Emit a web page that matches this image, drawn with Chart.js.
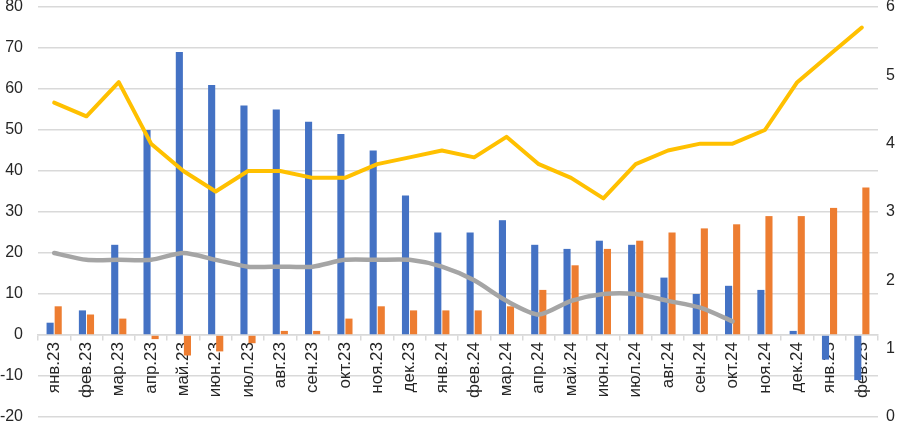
<!DOCTYPE html>
<html lang="ru">
<head>
    <meta charset="UTF-8">
    <title>Chart</title>
    <script src="https://cdn.jsdelivr.net/npm/chart.js@4.4.0/dist/chart.umd.min.js"></script>
    <style>
        html, body { margin: 0; padding: 0; background: #fff; }
        .chart-box { width: 902px; height: 422px; }
    </style>
</head>
<body>
    <div class="chart-box">
        <canvas id="mainChart"></canvas>
    </div>

    <script>
        // months
        const months = ['янв.23', 'фев.23', 'мар.23', 'апр.23', 'май.23', 'июн.23', 'июл.23', 'авг.23',
            'сен.23', 'окт.23', 'ноя.23', 'дек.23', 'янв.24', 'фев.24', 'мар.24', 'апр.24', 'май.24',
            'июн.24', 'июл.24', 'авг.24', 'сен.24', 'окт.24', 'ноя.24', 'дек.24', 'янв.25', 'фев.25'];

        // bars, left axis
        const blueBars = [3, 6, 22, 50, 69, 61, 56, 55, 52, 49, 45, 34, 25,
            25, 28, 22, 21, 23, 22, 14, 10, 12, 11, 1, -6, -11];
        const orangeBars = [7, 5, 4, -1, -5, -4, -2, 1, 1, 4, 7, 6, 6,
            6, 7, 11, 17, 21, 23, 25, 26, 27, 29, 29, 31, 36];

        // lines, right axis
        const yellowLine = [4.6, 4.4, 4.9, 4.0, 3.6, 3.3, 3.6, 3.6, 3.5, 3.5, 3.7, 3.8, 3.9,
            3.8, 4.1, 3.7, 3.5, 3.2, 3.7, 3.9, 4.0, 4.0, 4.2, 4.9, 5.3, 5.7];
        const grayLine = [2.4, 2.3, 2.3, 2.3, 2.4, 2.3, 2.2, 2.2, 2.2, 2.3, 2.3, 2.3, 2.2,
            2.0, 1.7, 1.5, 1.7, 1.8, 1.8, 1.7, 1.6, 1.4, null, null, null, null];

        const fontFamily = '"Liberation Sans", Arial, sans-serif';
        const textColor = '#262626';
        const gridColor = '#d9d9d9';

        const ctx = document.getElementById('mainChart').getContext('2d');
        const mainChart = new Chart(ctx, {
            type: 'bar',
            data: {
                labels: months,
                datasets: [
                    {
                        type: 'line',
                        data: yellowLine,
                        yAxisID: 'y2',
                        borderColor: '#ffc000',
                        borderWidth: 4,
                        pointRadius: 0,
                        tension: 0,
                        borderJoinStyle: 'round',
                        borderCapStyle: 'round',
                        order: 0
                    },
                    {
                        type: 'line',
                        data: grayLine,
                        yAxisID: 'y2',
                        borderColor: '#a5a5a5',
                        borderWidth: 4.5,
                        pointRadius: 0,
                        tension: 0.25,
                        borderJoinStyle: 'round',
                        borderCapStyle: 'round',
                        order: 0
                    },
                    {
                        data: blueBars,
                        yAxisID: 'y',
                        backgroundColor: '#4472c4',
                        categoryPercentage: 0.5,
                        barPercentage: 0.88,
                        order: 1
                    },
                    {
                        data: orangeBars,
                        yAxisID: 'y',
                        backgroundColor: '#ed7d31',
                        categoryPercentage: 0.5,
                        barPercentage: 0.88,
                        order: 1
                    }
                ]
            },
            options: {
                responsive: true,
                maintainAspectRatio: false,
                animation: false,
                layout: { padding: { top: 7, bottom: 5, left: 0, right: 0 } },
                plugins: {
                    legend: { display: false },
                    tooltip: { enabled: false }
                },
                scales: {
                    x: {
                        position: { y: 0 },
                        grid: {
                            offset: true,
                            drawOnChartArea: false,
                            drawTicks: true,
                            tickLength: 5,
                            color: gridColor,
                            lineWidth: 1.5
                        },
                        border: { color: gridColor, width: 1.5 },
                        ticks: {
                            autoSkip: false,
                            minRotation: 90,
                            maxRotation: 90,
                            padding: 2,
                            color: textColor,
                            font: { family: fontFamily, size: 17 }
                        }
                    },
                    y: {
                        position: 'left',
                        min: -20,
                        max: 80,
                        ticks: {
                            stepSize: 10,
                            padding: 15,
                            color: textColor,
                            font: { family: fontFamily, size: 16 }
                        },
                        grid: { color: gridColor, lineWidth: 1.5, drawTicks: false },
                        border: { display: false },
                        afterFit: (scale) => {
                            scale.width = 38;
                            scale.paddingTop = 0;
                            scale.paddingBottom = 0;
                        }
                    },
                    y2: {
                        position: 'right',
                        min: 0,
                        max: 6,
                        ticks: {
                            stepSize: 1,
                            padding: 8,
                            color: textColor,
                            font: { family: fontFamily, size: 16 }
                        },
                        grid: { drawOnChartArea: false, drawTicks: false },
                        border: { display: false },
                        afterFit: (scale) => {
                            scale.width = 24;
                            scale.paddingTop = 0;
                            scale.paddingBottom = 0;
                        }
                    }
                }
            }
        });
    </script>
</body>
</html>
